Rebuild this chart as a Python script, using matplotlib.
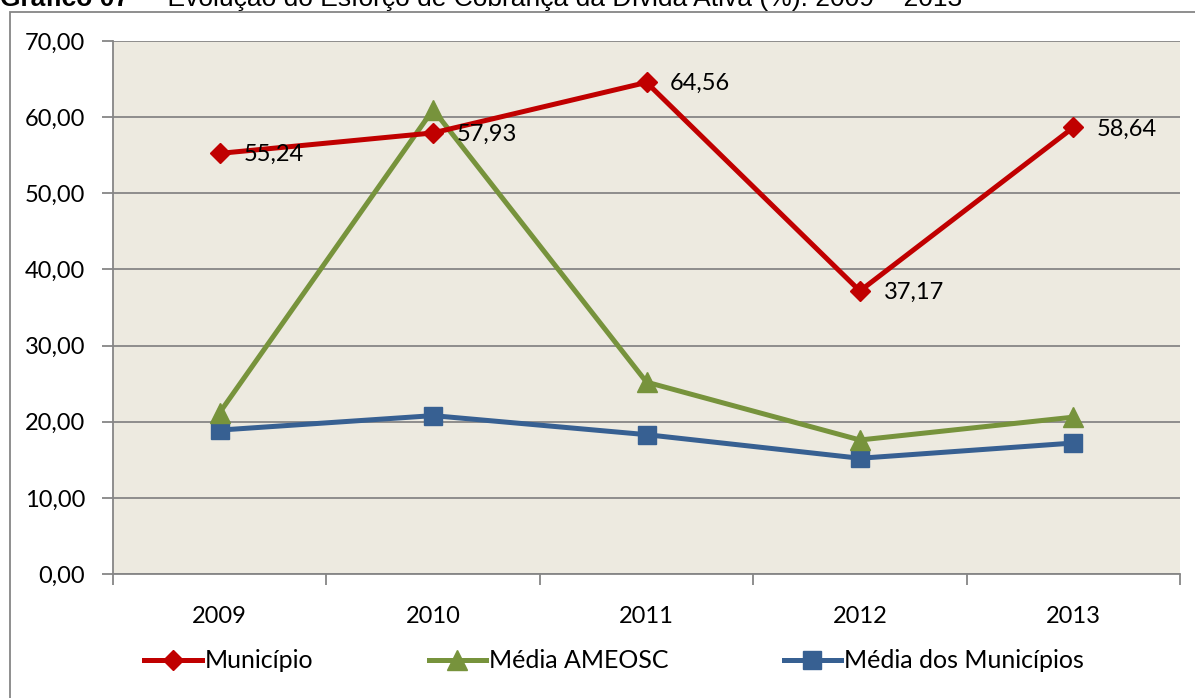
import numpy as np
import matplotlib.pyplot as plt
from matplotlib.patches import Rectangle

# dados
anos = ['2009', '2010', '2011', '2012', '2013']
municipio = [55.24, 57.93, 64.56, 37.17, 58.64]
media_ameosc = [21.2, 61.0, 25.2, 17.6, 20.6]
media_municipios = [18.9, 20.8, 18.3, 15.2, 17.2]

fonte = 'Lato'
tam = 17
cinza = '#868686'

fig = plt.figure(figsize=(11.95, 6.98), dpi=100)
ax = fig.add_axes([113 / 1195, 1 - 574 / 698, (1180 - 113) / 1195, (574 - 41) / 698])
ax.set_facecolor('#EDEAE0')

# borda externa do grafico
fig.patches.append(Rectangle((10 / 1195, -0.1), 1.2, 1 - 12 / 698 + 0.1, transform=fig.transFigure,
                             fill=False, edgecolor=cinza, linewidth=1.3))

x = np.arange(len(anos))
ax.plot(x, municipio, color='#C00000', lw=3.6, marker='D', ms=10, label='Município', zorder=5)
ax.plot(x, media_ameosc, color='#77933C', lw=3.6, marker='^', ms=14, label='Média AMEOSC', zorder=4)
ax.plot(x, media_municipios, color='#376092', lw=3.6, marker='s', ms=13, label='Média dos Municípios', zorder=3)

for xi, v in zip(x, municipio):
    ax.annotate(f'{v:.2f}'.replace('.', ','), (xi, v), xytext=(17, -1), textcoords='offset points',
                va='center', ha='left', fontsize=tam, family=fonte, zorder=6)

ax.set_xlim(-0.5, 4.5)
ax.set_ylim(0, 70)
ax.set_yticks(np.arange(0, 71, 10))
ax.set_yticklabels([f'{v:.2f}'.replace('.', ',') for v in np.arange(0, 71, 10)])
ax.set_xticks(x)
ax.set_xticklabels(anos)
ax.set_xticks(np.arange(-0.5, 5, 1), minor=True)
ax.tick_params(axis='x', which='major', length=0, pad=23)
ax.tick_params(axis='x', which='minor', length=8, width=1.3, color=cinza, direction='out')
ax.tick_params(axis='y', length=8, width=1.3, color=cinza, pad=12)
for lab in ax.get_xticklabels() + ax.get_yticklabels():
    lab.set_fontsize(tam)
    lab.set_family(fonte)

ax.grid(axis='y', color=cinza, lw=1.3)
ax.set_axisbelow(True)
for s in ['top', 'right']:
    ax.spines[s].set_visible(False)
for s in ['left', 'bottom']:
    ax.spines[s].set_color(cinza)
    ax.spines[s].set_linewidth(1.3)

fig.legend(loc='center', bbox_to_anchor=(0.514, 1 - 661 / 698), ncol=3, frameon=False,
           prop={'family': fonte, 'size': 18}, handlelength=2.3, handletextpad=0.12,
           columnspacing=4.6, markerscale=1.0)

# titulo (cortado no topo, como na referencia)
fig.text(0, 1 - 6 / 698, 'Gráfico 07', family='Liberation Sans', fontweight='bold',
         fontsize=19, va='baseline', ha='left')
fig.text(138 / 1195, 1 - 6 / 698, '–  Evolução do Esforço de Cobrança da Dívida Ativa (%): 2009 – 2013',
         family='Liberation Sans', fontsize=19, va='baseline', ha='left')

fig.savefig('out.png', dpi=100)
